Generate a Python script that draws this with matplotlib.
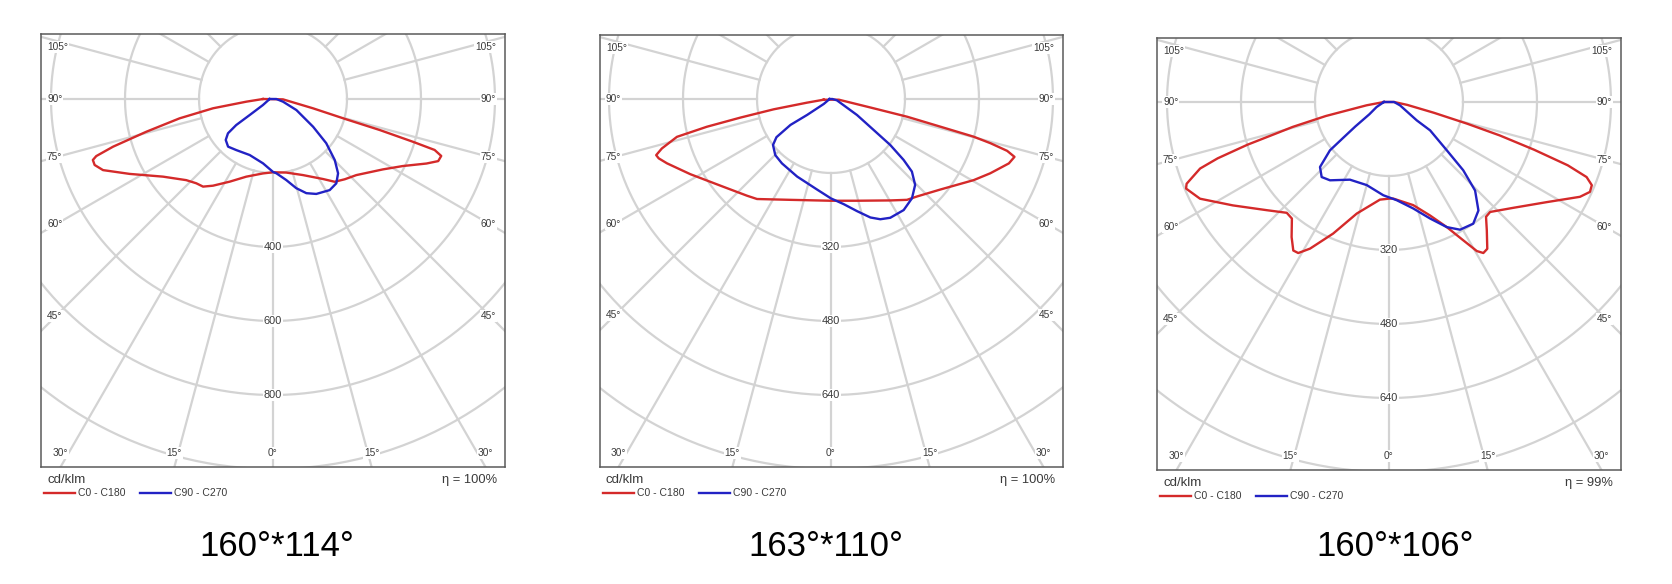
import numpy as np
import matplotlib.pyplot as plt
from matplotlib.lines import Line2D

plt.rcParams['font.family'] = ['Liberation Sans', 'DejaVu Sans']

W, H = 1672, 584

# ---- data: gamma angle (deg, negative = left half) and intensity (cd/klm) ----
p1_red_ang = [-90, -84.3, -81.2, -78.3, -75.5, -73.4, -72.1, -71.3, -69.7, -67.3, -62.4, -54.8,
              -46.9, -42.3, -38.6, -34.7, -27.6, -19, -7.7, 0, 10.2, 21.5, 32, 36.7, 41.8, 47.6,
              57.4, 62.7, 67.2, 69.4, 71.3, 72.5, 73.0, 73.8, 74.5, 76.9, 88]
p1_red_val = [27, 72, 164, 258, 354, 451, 502, 514, 514, 498, 437, 364,
              321, 308, 303, 285, 252, 222, 203, 198, 202, 221, 255, 279, 291, 305,
              353, 395, 450, 477, 480, 458, 396, 300, 206, 111, 27]
p1_blue_ang = [-90, -59, -55.5, -54.7, -52.7, -49.1, -43.3, -35.7, -22.6, -8.8, 0, 2.6, 9.3,
               14.6, 19.5, 24.5, 31.9, 36.9, 41.2, 45.3, 50.3, 55.3, 64.7, 75, 90]
p1_blue_val = [9, 32, 76, 122, 153, 169, 177, 170, 164, 176, 197, 201, 222,
               249, 270, 282, 290, 285, 267, 235, 187, 132, 70, 28, 9]

p2_red_ang = [-84.5, -81.3, -79.8, -78.4, -77.4, -76.2, -73.7, -72.2, -71, -68.6, -61.9, -50.7,
              -41, -36.5, -21.9, 0, 14.3, 30.3, 37, 41.4, 50.4, 60.4, 65, 70.1, 72.5, 73.6,
              74.5, 75.2, 75.8, 76.9, 77.7, 85]
p2_red_val = [16, 53, 126, 200, 275, 343, 381, 397, 394, 381, 345, 300,
              277, 269, 235, 220, 227, 254, 273, 281, 307, 355, 380, 409, 416, 397,
              358, 319, 244, 169, 94, 17]
p2_blue_ang = [-90, -55.6, -56.3, -57.4, -55, -51.6, -44.8, -37.3, -23.6, -8.8, 0, 6.9, 13.1,
               18.4, 22.3, 26.5, 33.2, 39.2, 44.4, 48.1, 50, 52.2, 54, 58.4, 77.5, 90]
p2_blue_val = [3, 19, 62, 104, 144, 160, 171, 175, 183, 198, 215, 229, 249,
               270, 281, 287, 287, 277, 260, 235, 205, 162, 114, 66, 13, 3]

p3_red_ang = [-90, -81.6, -77.5, -75.5, -74.5, -73.2, -71.8, -70.6, -68, -66.9, -62.9, -56.5,
              -48.5, -42.7, -39.8, -35.8, -32.8, -31, -28.3, -23, -16.1, -5.3, 0, 2.5, 13.2,
              19.9, 24.8, 28.2, 30.5, 32, 33.8, 37.3, 40.2, 42.6, 49.6, 57.6, 63.6, 65.9,
              67.7, 69.2, 70.5, 71.8, 73.2, 74.5, 76.5, 81, 90]
p3_red_val = [11, 49, 140, 215, 250, 320, 390, 433, 472, 477, 459, 405,
              353, 326, 328, 360, 382, 381, 360, 309, 251, 212, 209, 209, 229,
              261, 298, 339, 374, 385, 382, 349, 325, 323, 353, 404, 461, 476,
              474, 457, 410, 330, 250, 175, 100, 40, 11]
p3_blue_ang = [-90, -68, -58, -54, -52, -50.7, -46.7, -41.9, -37, -26.7, -15, -3.5, 4.5,
               12.8, 19.4, 24.8, 29.1, 34.7, 39.5, 44.2, 47.4, 50.1, 55.4, 56.5, 73, 90]
p3_blue_val = [11, 29, 50, 90, 125, 165, 205, 218, 212, 188, 186, 202, 213,
               236, 267, 298, 316, 320, 304, 267, 218, 163, 108, 72, 25, 11]

ring_steps = [200, 160, 160]
eta_texts = ['η = 100%', 'η = 100%', 'η = 99%']
captions = ['160°*114°', '163°*110°', '160°*106°']
legend_names = ['C0 - C180', 'C90 - C270']

# ---- layout (pixels) ----
boxes = [(41, 34, 505, 467), (600, 35, 1063, 467), (1157, 38, 1621, 470)]
centers = [(273, 99), (831, 99), (1389, 102)]
caption_x = [277, 826, 1395]
ring_px = 74.0

RED = '#d42a2a'
BLUE = '#2222c4'
GRID = '#d3d3d3'
TXT = '#3a3a3a'

fig = plt.figure(figsize=(W / 100, H / 100), dpi=100)
fig.patch.set_facecolor('white')


def fx(px):
    return px / W


def fy(py):
    return 1 - py / H


def curve(ax, ang, val, color):
    g = np.radians(ang)
    v = np.array(val, dtype=float)
    x = v * np.sin(g)
    y = -v * np.cos(g)
    x = np.append(x, x[0])
    y = np.append(y, y[0])
    ax.plot(x, y, color=color, lw=1.7, zorder=5, solid_joinstyle='round')


series = [(p1_red_ang, p1_red_val, p1_blue_ang, p1_blue_val),
          (p2_red_ang, p2_red_val, p2_blue_ang, p2_blue_val),
          (p3_red_ang, p3_red_val, p3_blue_ang, p3_blue_val)]

for i in range(3):
    x0, y0, x1, y1 = boxes[i]
    cx, cy = centers[i]
    ring = ring_steps[i]
    s = ring / ring_px
    ax = fig.add_axes([fx(x0), fy(y1), (x1 - x0) / W, (y1 - y0) / H])
    ax.set_xlim(-(cx - x0) * s, (x1 - cx) * s)
    ax.set_ylim(-(y1 - cy) * s, (cy - y0) * s)
    ax.set_xticks([])
    ax.set_yticks([])
    for sp in ax.spines.values():
        sp.set_color('#5a5a5a')
        sp.set_linewidth(1.1)

    # grid
    t = np.linspace(0, 2 * np.pi, 400)
    for k in range(1, 7):
        ax.plot(k * ring * np.cos(t), k * ring * np.sin(t), color=GRID, lw=1.6, zorder=1)
    for a in range(0, 360, 15):
        ar = np.radians(a)
        ax.plot([ring * np.sin(ar), 8 * ring * np.sin(ar)],
                [-ring * np.cos(ar), -8 * ring * np.cos(ar)], color=GRID, lw=1.6, zorder=1)

    box = dict(facecolor='white', edgecolor='none', pad=0.6)
    # bottom angle labels
    below = y1 - cy
    for a in (0, 15, 30):
        for sg in ((1,) if a == 0 else (-1, 1)):
            xe = sg * below * np.tan(np.radians(a)) * s
            ax.text(xe, -(below - 14) * s, f'{a}°', ha='center', va='center',
                    fontsize=7.3, color=TXT, bbox=box, zorder=3)
    # side angle labels
    half = cx - x0
    for a in (45, 60, 75, 90, 105):
        xin = half - 15
        ypx = xin / np.tan(np.radians(a)) if a != 90 else 0.0
        ypx = max(ypx, -(cy - y0) + 13)
        ax.text(-(half - 6) * s, -ypx * s, f'{a}°', ha='left', va='center',
                fontsize=7.3, color=TXT, bbox=box, zorder=3)
        ax.text((x1 - cx - 9) * s, -ypx * s, f'{a}°', ha='right', va='center',
                fontsize=7.3, color=TXT, bbox=box, zorder=3)
    # ring values
    for k in (2, 3, 4):
        ax.text(0, -k * ring, f'{k * ring}', ha='center', va='center',
                fontsize=7.9, color=TXT, bbox=box, zorder=3)

    ra, rv, ba, bv = series[i]
    curve(ax, ra, rv, RED)
    curve(ax, ba, bv, BLUE)

    # texts under the box
    fig.text(fx(x0 + 6), fy(y1 + 13), 'cd/klm', ha='left', va='center',
             fontsize=9.5, color=TXT)
    fig.text(fx(x1 - 8), fy(y1 + 13), eta_texts[i], ha='right', va='center',
             fontsize=9.3, color=TXT)
    ly = fy(y1 + 26)
    fig.add_artist(Line2D([fx(x0 + 3), fx(x0 + 34)], [ly, ly], color=RED, lw=1.7))
    fig.text(fx(x0 + 37), ly, legend_names[0], ha='left', va='center', fontsize=7.5, color=TXT)
    fig.add_artist(Line2D([fx(x0 + 99), fx(x0 + 130)], [ly, ly], color=BLUE, lw=1.7))
    fig.text(fx(x0 + 133), ly, legend_names[1], ha='left', va='center', fontsize=7.5, color=TXT)

    fig.text(fx(caption_x[i]), fy(547), captions[i], ha='center', va='center',
             fontsize=25, color='black')

fig.savefig('out.png', dpi=100, facecolor='white')
